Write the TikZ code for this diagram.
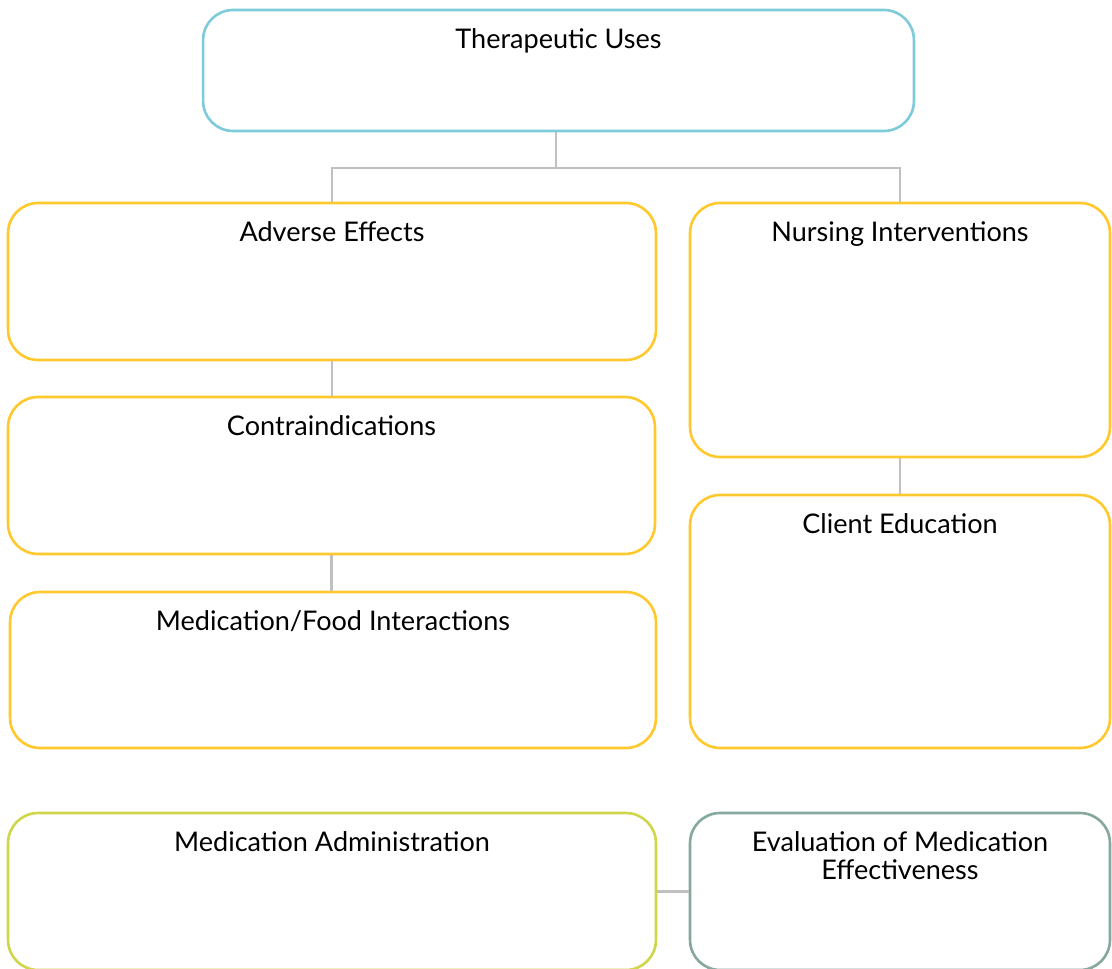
\documentclass[tikz,border=0pt]{standalone}
\usepackage{fontspec}
\setmainfont{Lato}
\usepackage{xcolor}
\usetikzlibrary{positioning}

\definecolor{usesblue}{HTML}{7ECBDA}
\definecolor{boxyellow}{HTML}{FFC92E}
\definecolor{adminlime}{HTML}{CFD64A}
\definecolor{evalsage}{HTML}{86A89E}
\definecolor{linkgray}{HTML}{C0C0C0}

\begin{document}
\begin{tikzpicture}[
    x=0.02cm, y=-0.02cm,
    box/.style={rectangle, draw, line width=1.5pt, rounded corners=0.6cm, inner sep=0pt},
    title/.style={font=\fontsize{15.4}{15.9}\selectfont, align=center, inner sep=0pt, anchor=north},
    link/.style={draw=linkgray, line width=1.4pt}
]
\useasboundingbox (0,0) rectangle (1112,969);

% Top
\node[box, draw=usesblue, minimum width=14.22cm, minimum height=2.42cm] (uses) at (558.5,70.5) {};

% Left column
\node[box, draw=boxyellow, minimum width=12.96cm, minimum height=3.14cm] (adverse) at (332,281.5) {};
\node[box, draw=boxyellow, minimum width=12.94cm, minimum height=3.14cm] (contra) at (331.5,475.5) {};
\node[box, draw=boxyellow, minimum width=12.92cm, minimum height=3.12cm] (food) at (333,670) {};

% Right column
\node[box, draw=boxyellow, minimum width=8.4cm, minimum height=5.08cm] (nursing) at (900,330) {};
\node[box, draw=boxyellow, minimum width=8.4cm, minimum height=5.06cm] (client) at (900,621.5) {};

% Bottom row
\node[box, draw=adminlime, minimum width=12.96cm, minimum height=3.14cm] (admin) at (332,891.5) {};
\node[box, draw=evalsage, minimum width=8.4cm, minimum height=3.14cm] (evalu) at (900,891.5) {};

% Titles
\node[title, below=0.39cm of uses.north] (usest) {Therapeutic Uses};
\node[title, below=0.39cm of adverse.north] (adverset) {Adverse Effects};
\node[title, below=0.39cm of contra.north] (contrat) {Contraindications};
\node[title, below=0.39cm of food.north] (foodt) {Medication/Food Interactions};
\node[title, below=0.39cm of nursing.north] (nursingt) {Nursing Interventions};
\node[title, below=0.39cm of client.north] (clientt) {Client Education};
\node[title, below=0.39cm of admin.north] (admint) {Medication Administration};
\node[title, below=0.39cm of evalu.north] (evalut) {Evaluation of Medication\\Effectiveness};

% Links
\coordinate (split) at (556,168);
\draw[link] (split |- uses.south) -- (split) -| (adverse.north);
\draw[link] (split) -| (nursing.north);
\draw[link] (adverse.south) -- (adverse.south |- contra.north);
\draw[link] (contra.south) -- (contra.south |- food.north);
\draw[link] (nursing.south) -- (client.north);
\draw[link] (admin.east) -- (evalu.west);

\end{tikzpicture}
\end{document}
